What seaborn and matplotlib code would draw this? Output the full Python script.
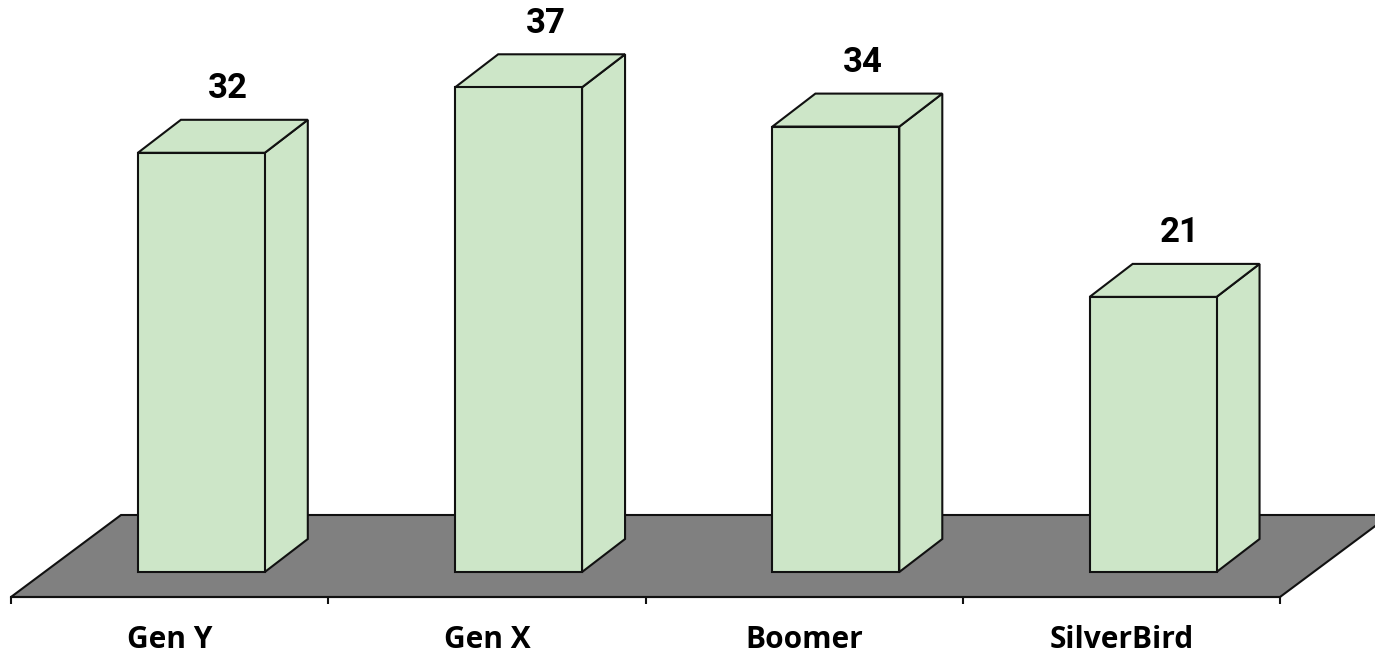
import matplotlib
matplotlib.use("Agg")
import matplotlib.pyplot as plt
from matplotlib.patches import Polygon
from matplotlib.transforms import Affine2D
import pandas as pd
import seaborn as sns

# Chart data
generations = ["Gen Y", "Gen X", "Boomer", "SilverBird"]
values = [32, 37, 34, 21]

# Colours and drawing style
BAR_COLOUR = "#CDE6C8"
FLOOR_COLOUR = "#808080"
EDGE_COLOUR = "#111111"
LINE_W = 1.5

sns.set_theme(style="white")
plt.rcParams["font.family"] = ["Roboto", "DejaVu Sans"]

fig = plt.figure(figsize=(13.75, 6.54), dpi=100)
fig.patch.set_facecolor("white")

# The axes run from the front edge of the floor to the top of the canvas
ax = fig.add_axes([11 / 1375, 57 / 654, 1269 / 1375, 597 / 654])
ax.patch.set_alpha(0)

frame = pd.DataFrame({"generation": generations, "value": values})
sns.barplot(
    data=frame, x="generation", y="value", ax=ax, order=generations,
    color=BAR_COLOUR, saturation=1, width=0.4, errorbar=None,
    edgecolor=EDGE_COLOUR, linewidth=LINE_W, zorder=3,
)

PX_PER_UNIT = 13.1
ax.set_xlim(-0.6, 3.4)
ax.set_ylim(-25 / PX_PER_UNIT, 572 / PX_PER_UNIT)

# Depth of the floor and of the bars, in pixels
floor_back = ax.transData + Affine2D().translate(110, 82)
bar_depth = (43, 33)

# Floor parallelogram, extending past the right side of the canvas
x0, x1 = ax.get_xlim()
y0 = ax.get_ylim()[0]
px = ax.transData.transform([(x0, y0), (x1, y0)])
back = floor_back.transform([(x0, y0), (x1, y0)])
ax.add_patch(Polygon(
    [px[0], px[1], back[1], back[0]], closed=True, transform=None,
    facecolor=FLOOR_COLOUR, edgecolor=EDGE_COLOUR, linewidth=LINE_W,
    zorder=1, clip_on=False,
))

# Side and top faces plus the value above every bar
for bar, value in zip(list(ax.patches)[:len(values)], values):
    left, right = bar.get_x(), bar.get_x() + bar.get_width()
    (lx, by), (rx, ty) = ax.transData.transform([(left, 0), (right, value)])
    dx, dy = bar_depth
    ax.add_patch(Polygon(
        [(rx, by), (rx + dx, by + dy), (rx + dx, ty + dy), (rx, ty)],
        closed=True, transform=None, facecolor=BAR_COLOUR,
        edgecolor=EDGE_COLOUR, linewidth=LINE_W, zorder=2.5, clip_on=False,
    ))
    ax.add_patch(Polygon(
        [(lx, ty), (rx, ty), (rx + dx, ty + dy), (lx + dx, ty + dy)],
        closed=True, transform=None, facecolor=BAR_COLOUR,
        edgecolor=EDGE_COLOUR, linewidth=LINE_W, zorder=2.5, clip_on=False,
    ))
    ax.annotate(
        str(value), xy=((left + right) / 2, value), xycoords="data",
        xytext=(27 * 0.72, 64 * 0.72), textcoords="offset points",
        ha="center", va="center", fontsize=25, fontweight="bold",
        color="black", annotation_clip=False,
    )

# Boundary ticks between categories, with names centred in each slot
for side in ("top", "right", "left"):
    ax.spines[side].set_visible(False)
ax.spines["bottom"].set_color(EDGE_COLOUR)
ax.spines["bottom"].set_linewidth(LINE_W)
ax.spines["bottom"].set_zorder(2)
ax.set_yticks([])
ax.set_xlabel("")
ax.set_ylabel("")

ax.set_xticks([i - 0.6 for i in range(len(generations) + 1)])
ax.set_xticklabels([])
ax.set_xticks([i - 0.1 for i in range(len(generations))], labels=generations, minor=True)
ax.tick_params(axis="x", which="major", length=5, width=LINE_W, color=EDGE_COLOUR, bottom=True)
ax.tick_params(axis="x", which="minor", length=0, pad=20, labelsize=21.5, labelcolor="black", bottom=False)
for label in ax.get_xticklabels(minor=True):
    label.set_family(["Open Sans", "DejaVu Sans"])
    label.set_fontweight("bold")

fig.savefig("out.png", dpi=100)
